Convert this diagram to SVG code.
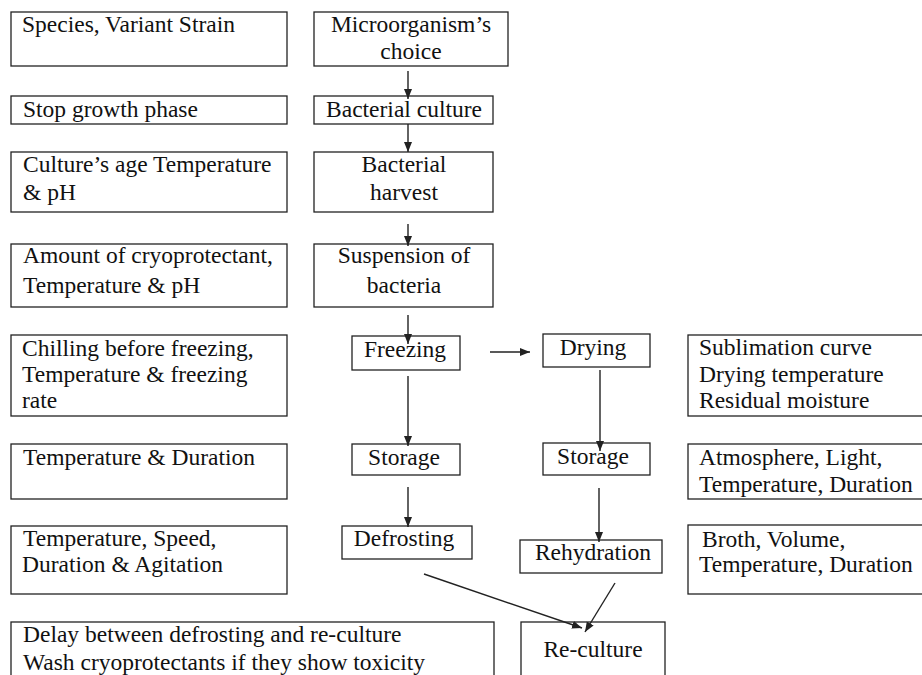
<svg xmlns="http://www.w3.org/2000/svg" width="922" height="675" viewBox="0 0 922 675">
<style>
.b{fill:#fff;stroke:#222;stroke-width:1.3}
.t{font-family:"Liberation Serif","Times New Roman",serif;font-size:23.5px;fill:#111}
.c{text-anchor:middle}
.l{stroke:#222;stroke-width:1.4;fill:none;marker-end:url(#ah)}
</style>
<defs>
<marker id="ah" markerWidth="10" markerHeight="10" viewBox="0 0 10 10" refX="10" refY="5" orient="auto" markerUnits="userSpaceOnUse">
<path d="M0,1 L10,5 L0,9 Z" fill="#222"/>
</marker>
</defs>
<rect width="922" height="675" fill="#fff"/>
<g id="n-species"><rect class="b" x="11" y="12" width="276" height="54"/><text class="t" x="22" y="32">Species, Variant Strain</text></g>
<g id="n-micro"><rect class="b" x="314" y="12" width="194" height="54"/><text class="t c" x="411" y="32">Microorganism’s</text><text class="t c" x="411" y="59">choice</text></g>
<g id="n-stop"><rect class="b" x="11" y="96" width="276" height="28"/><text class="t" x="23" y="117">Stop growth phase</text></g>
<g id="n-culture"><rect class="b" x="314" y="96" width="179" height="28"/><text class="t c" x="404" y="117">Bacterial culture</text></g>
<g id="n-age"><rect class="b" x="11" y="152" width="276" height="60"/><text class="t" x="23" y="172">Culture’s age Temperature</text><text class="t" x="23" y="200">&amp; pH</text></g>
<g id="n-harvest"><rect class="b" x="314" y="152" width="179" height="60"/><text class="t c" x="404" y="172">Bacterial</text><text class="t c" x="404" y="200">harvest</text></g>
<g id="n-amount"><rect class="b" x="11" y="244" width="276" height="63"/><text class="t" x="23" y="263">Amount of cryoprotectant,</text><text class="t" x="23" y="293">Temperature &amp; pH</text></g>
<g id="n-susp"><rect class="b" x="314" y="244" width="179" height="63"/><text class="t c" x="404" y="263">Suspension of</text><text class="t c" x="404" y="293">bacteria</text></g>
<g id="n-chill"><rect class="b" x="11" y="335" width="276" height="81"/><text class="t" x="22" y="356">Chilling before freezing,</text><text class="t" x="22" y="382">Temperature &amp; freezing</text><text class="t" x="22" y="408">rate</text></g>
<g id="n-freeze"><rect class="b" x="352" y="336" width="108" height="34"/><text class="t c" x="405" y="357">Freezing</text></g>
<g id="n-drying"><rect class="b" x="543" y="334" width="107" height="33"/><text class="t c" x="593" y="355">Drying</text></g>
<g id="n-subl"><rect class="b" x="688" y="335" width="240" height="81"/><text class="t" x="699" y="355">Sublimation curve</text><text class="t" x="699" y="382">Drying temperature</text><text class="t" x="699" y="408">Residual moisture</text></g>
<g id="n-tempdur"><rect class="b" x="11" y="444" width="276" height="55"/><text class="t" x="23" y="465">Temperature &amp; Duration</text></g>
<g id="n-storage1"><rect class="b" x="352" y="444" width="108" height="31"/><text class="t c" x="404" y="465">Storage</text></g>
<g id="n-storage2"><rect class="b" x="543" y="443" width="107" height="32"/><text class="t c" x="593" y="464">Storage</text></g>
<g id="n-atmo"><rect class="b" x="688" y="444" width="240" height="55"/><text class="t" x="699" y="465">Atmosphere, Light,</text><text class="t" x="699" y="492">Temperature, Duration</text></g>
<g id="n-speed"><rect class="b" x="11" y="526" width="276" height="68"/><text class="t" x="23" y="546">Temperature, Speed,</text><text class="t" x="22" y="572">Duration &amp; Agitation</text></g>
<g id="n-defrost"><rect class="b" x="342" y="526" width="130" height="33"/><text class="t c" x="404" y="546">Defrosting</text></g>
<g id="n-rehyd"><rect class="b" x="520" y="540" width="142" height="33"/><text class="t c" x="593" y="560">Rehydration</text></g>
<g id="n-broth"><rect class="b" x="688" y="525" width="240" height="69"/><text class="t" x="702" y="547">Broth, Volume,</text><text class="t" x="699" y="572">Temperature, Duration</text></g>
<g id="n-delay"><rect class="b" x="11" y="622" width="483" height="70"/><text class="t" x="23" y="642">Delay between defrosting and re-culture</text><text class="t" x="23" y="670">Wash cryoprotectants if they show toxicity</text></g>
<g id="n-reculture"><rect class="b" x="521" y="622" width="144" height="70"/><text class="t c" x="593" y="657">Re-culture</text></g>
<g id="connectors">
<path class="l" d="M408,71 L408,99"/>
<path class="l" d="M408,124 L408,152"/>
<path class="l" d="M408,224 L408,246"/>
<path class="l" d="M408,315 L408,344"/>
<path class="l" d="M408,376 L408,446"/>
<path class="l" d="M408,487 L408,527"/>
<path class="l" d="M490,352 L530,352"/>
<path class="l" d="M600,370 L600,451"/>
<path class="l" d="M599,488 L599,542"/>
<path class="l" d="M615,583 L585,632"/>
<path class="l" d="M424,574 L582,628"/>
</g>
</svg>
